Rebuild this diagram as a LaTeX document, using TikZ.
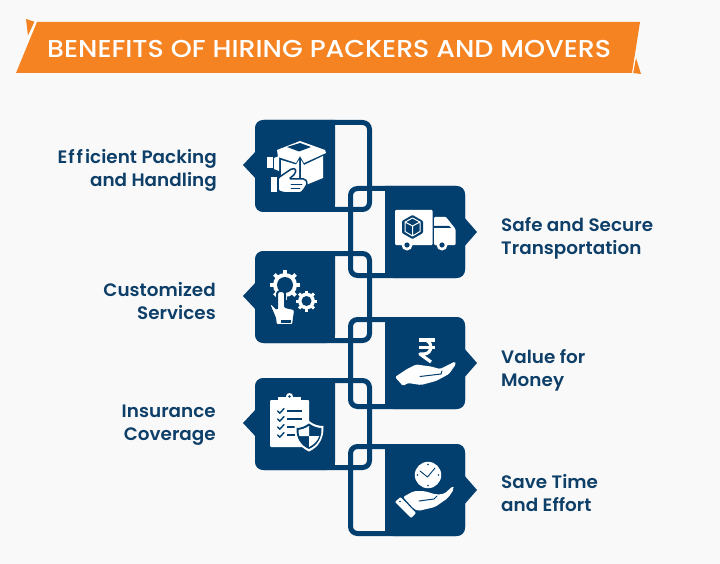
\documentclass[tikz,border=0pt]{standalone}
\usepackage{fontspec}
\setmainfont{Poppins}
\newfontfamily\labfont{Poppins SemiBold}[FakeStretch=1.02,Ligatures=NoCommon,LetterSpace=0.2]
\newfontfamily\titlefont{Poppins Medium}[FakeStretch=1.1,Ligatures=NoCommon]
\definecolor{navy}{HTML}{033F6E}
\definecolor{labnavy}{HTML}{0E3F68}
\definecolor{orng}{HTML}{F58322}
\definecolor{paper}{HTML}{F9F9F9}
\tikzset{
  frameline/.style={draw=navy,line width=5pt,rounded corners=7pt},
  solidpart/.style={fill=navy},
  ink/.style={fill=white,draw=none},
  cut/.style={fill=navy,draw=none},
  cutline/.style={draw=navy,line width=1.3pt,line cap=round,line join=round},
  inkline/.style={draw=white,line cap=round,line join=round},
  labelleft/.style={font=\labfont\fontsize{18}{23}\selectfont,text=labnavy,align=right,anchor=east,inner sep=0pt},
  labelright/.style={font=\labfont\fontsize{18}{23}\selectfont,text=labnavy,align=left,anchor=west,inner sep=0pt},
}
\newcommand\cardL[2]{% x, y top
  \fill[solidpart] (#1+2,#2+30) -- (#1-12,#2+45) -- (#1+2,#2+60) -- cycle;
  \fill[solidpart,rounded corners=8pt] (#1+80,#2) -- (#1,#2) -- (#1,#2+92) -- (#1+80,#2+92) [sharp corners] -- cycle;
  \fill[solidpart] (#1+70,#2) rectangle (#1+80,#2+92);
  \draw[frameline] (#1+2.5,#2+2.5) rectangle (#1+114.5,#2+89.5);
}
\newcommand\cardR[2]{%
  \fill[solidpart] (#1+115,#2+30) -- (#1+129,#2+46) -- (#1+115,#2+62) -- cycle;
  \fill[solidpart,rounded corners=8pt] (#1+37,#2) -- (#1+117,#2) -- (#1+117,#2+92) -- (#1+37,#2+92) [sharp corners] -- cycle;
  \fill[solidpart] (#1+37,#2) rectangle (#1+47,#2+92);
  \draw[frameline] (#1+2.5,#2+2.5) rectangle (#1+114.5,#2+89.5);
}
\newcommand\gearicon[5]{% cx cy R r toothwidth
  \fill[white] (#1,#2) circle[radius=#3*0.8];
  \foreach \a in {0,45,...,315}
    \draw[white,line width=#5pt] (#1,#2) -- ($(#1,#2)+(\a:#3)$);
  \fill[navy] (#1,#2) circle[radius=#4];
}
\usetikzlibrary{calc}
\begin{document}
\begin{tikzpicture}[x=1pt,y=-1pt]
\useasboundingbox (0,0) rectangle (720,564);
\fill[paper] (0,0) rectangle (720,564);
% banner
\fill[orng] (26,19) -- (35,22) -- (28,36) -- cycle;
\fill[orng] (636,58) -- (641,74) -- (632.5,73) -- cycle;
\fill[white] (35,21) -- (37,22) -- (29,40) -- (27,38) -- cycle;
\fill[white] (634,55) -- (636,56) -- (633,74) -- (630,74) -- cycle;
\fill[orng] (37,22) -- (640,22) -- (632,73) -- (16,73) -- cycle;
\node[font=\titlefont\fontsize{24.4}{28}\selectfont,text=white,inner sep=0pt,anchor=base west] (title) at (47,57.5) {BENEFITS OF HIRING PACKERS AND MOVERS};
% cards
\cardL{255}{120}
\cardR{348}{186}
\cardL{255}{251}
\cardR{348}{317}
\cardL{255}{378}
\cardR{348}{444}
% labels
\node[labelleft] (l1) at (217,170) {E\kern1pt f\kern2pt f\kern2pt icient Packing\\and Handling};
\node[labelright] (l2) at (501,238) {Safe and Secure\\Transportation};
\node[labelleft] (l3) at (216,301) {Customized\\Services};
\node[labelright] (l4) at (501,370) {Value for\\Money};
\node[labelleft] (l5) at (216,425.5) {Insurance\\Coverage};
\node[labelright] (l6) at (501,493) {Save Time\\and Effort};
% icon 1 : box and hand
\fill[ink] (277,150) -- (300,141) -- (325,150) -- (326,153) -- (304,163) -- (300,156) -- (296,163) -- (278,157) -- cycle;
\fill[cut] (287,147) -- (300,143) -- (311,147) -- (299,151.5) -- cycle;
\fill[ink] (281,160) -- (296,164.5) -- (299,160) -- (299,180) -- (281,180) -- cycle;
\fill[ink] (301,160) -- (304,165) -- (323,156) -- (323,178) -- (301,187) -- cycle;
\fill[ink] (267,157) rectangle (272.5,168);
\fill[ink] (274,158) -- (279,156) -- (279,171) -- (274,169) -- cycle;
\fill[ink] (270.5,177) rectangle (276.5,192);
\draw[navy,line width=1.5pt,fill=white,rounded corners=1.5pt] (278,178) -- (292,168.5) -- (296,169) -- (295,174) -- (289,179) -- (305,179) -- (307.5,183) -- (305,188) -- (301,193) -- (285,193) -- (278,191) -- cycle;
\draw[cutline,line width=.9pt] (291,184) -- (302,184) (291,188) -- (300,188);
% icon 2 : truck
\fill[ink,rounded corners=1pt] (395,210) rectangle (432.5,245);
\fill[ink,rounded corners=1pt] (434,217) -- (446,217) -- (455.5,229) -- (455.5,245) -- (434,245) -- cycle;
\fill[cut] (434,226) -- (449,226) -- (451,228) -- (434,228) -- cycle;
\fill[white] (407,245) circle[radius=5.5] (442,245) circle[radius=5.5];
\fill[navy] (407,245) circle[radius=2.6] (442,245) circle[radius=2.6];
\fill[navy,rounded corners=1pt] (412.5,215) -- (423,221) -- (423,233) -- (412.5,239) -- (402,233) -- (402,221) -- cycle;
\draw[white,line width=1pt,line join=round] (412.5,218) -- (420,222) -- (412.5,226) -- (405,222) -- cycle (412.5,226) -- (412.5,236) (420,222) -- (420,231.5) -- (412.5,236) -- (405,231.5) -- (405,222);
% icon 3 : gears
\gearicon{285}{285}{15}{8}{3.6}
\gearicon{306.5}{301}{10.5}{5}{3}
\draw[navy,line width=2pt,fill=white,rounded corners=1pt] (277,293) -- (279,291) -- (283,291) -- (285,293) -- (285,307) -- (294,309) -- (295,311) -- (293,325) -- (276,325) -- (275,318) -- (269.5,305) -- (271,303) -- (277,309) -- cycle;
\fill[cut] (281,320) rectangle (291,322.5);
% icon 4 : rupee and hand
\draw[inkline,line width=3.2pt,line cap=butt] (419,340) -- (435,340) (419,347.5) -- (435,347.5);
\draw[inkline,line width=3.2pt,line cap=butt] (424,340) .. controls (433,340) and (433,354) .. (424,354) -- (420,354) -- (431,362);
\fill[ink,rounded corners=1.5pt] (395,377) -- (407,369) -- (416,364.5) -- (431,366.5) -- (440,369) -- (455,361.5) -- (456,364) -- (449,374) -- (436,381) -- (421,385) -- (408,383) -- (403,386) -- cycle;
\draw[cutline,line width=1pt] (420,376.5) -- (441,374) -- (442,371);
% icon 5 : clipboard and shield
\fill[ink,rounded corners=1pt] (270,400) rectangle (309,447);
\fill[ink] (278,397) rectangle (301,401);
\fill[white] (289.5,396.5) circle[radius=3.5];
\fill[navy] (289.5,396.5) circle[radius=1.3];
\foreach \yy in {411,419,427,435}{
  \draw[cutline,line width=1.4pt] (277.5,\yy) -- (279.8,\yy+2.2) -- (284,\yy-2.4);
}
\draw[cutline,line width=1.5pt,line cap=butt] (287,411) -- (302,411) (287,419) -- (302,419) (287,427) -- (296,427) (287,435) -- (295,435);
\fill[white] (309,421) .. controls (314,425) and (319,426) .. (323.5,426) .. controls (324,438) and (319,447) .. (309,451.5) .. controls (299,447) and (294,438) .. (294.5,426) .. controls (299,426) and (304,425) .. (309,421) -- cycle;
\fill[navy] (309,423.5) .. controls (314,427) and (318,428) .. (321.5,428) .. controls (322,438) and (317,445.5) .. (309,449) .. controls (301,445.5) and (296,438) .. (296.5,428) .. controls (300,428) and (304,427) .. (309,423.5) -- cycle;
\fill[white] (309,426) .. controls (305,428.5) and (302,429.5) .. (298.5,430) .. controls (298.5,432) and (298.7,434) .. (299.5,436) -- (309,436) -- cycle;
\fill[white] (309,436) -- (319.2,436) .. controls (317.5,441) and (314,444.5) .. (309,447) -- cycle;
% icon 6 : clock and hand
\fill[white] (428,475) circle[radius=13.2];
\draw[cutline,line width=.9pt] (420,471) -- (427.5,477) -- (435,468);
\fill[navy] (428,464.5) circle[radius=.8] (428,485.5) circle[radius=.8] (417.5,475) circle[radius=.8] (438.5,475) circle[radius=.8];
\fill[ink,rounded corners=2pt] (403,497) -- (414,491) -- (424,491) -- (436,494.5) -- (444,494) -- (453,486) -- (454,489) -- (448,498) -- (435,507) -- (418,511) -- (414,509) -- cycle;
\draw[cutline,line width=1pt] (419,501) -- (434,499) -- (437,496);
\fill[ink,rounded corners=1pt] (395,502) -- (400.5,497) -- (416,513) -- (411,518) -- cycle;
\fill[navy] (400,501.5) circle[radius=.8];
\end{tikzpicture}
\end{document}
